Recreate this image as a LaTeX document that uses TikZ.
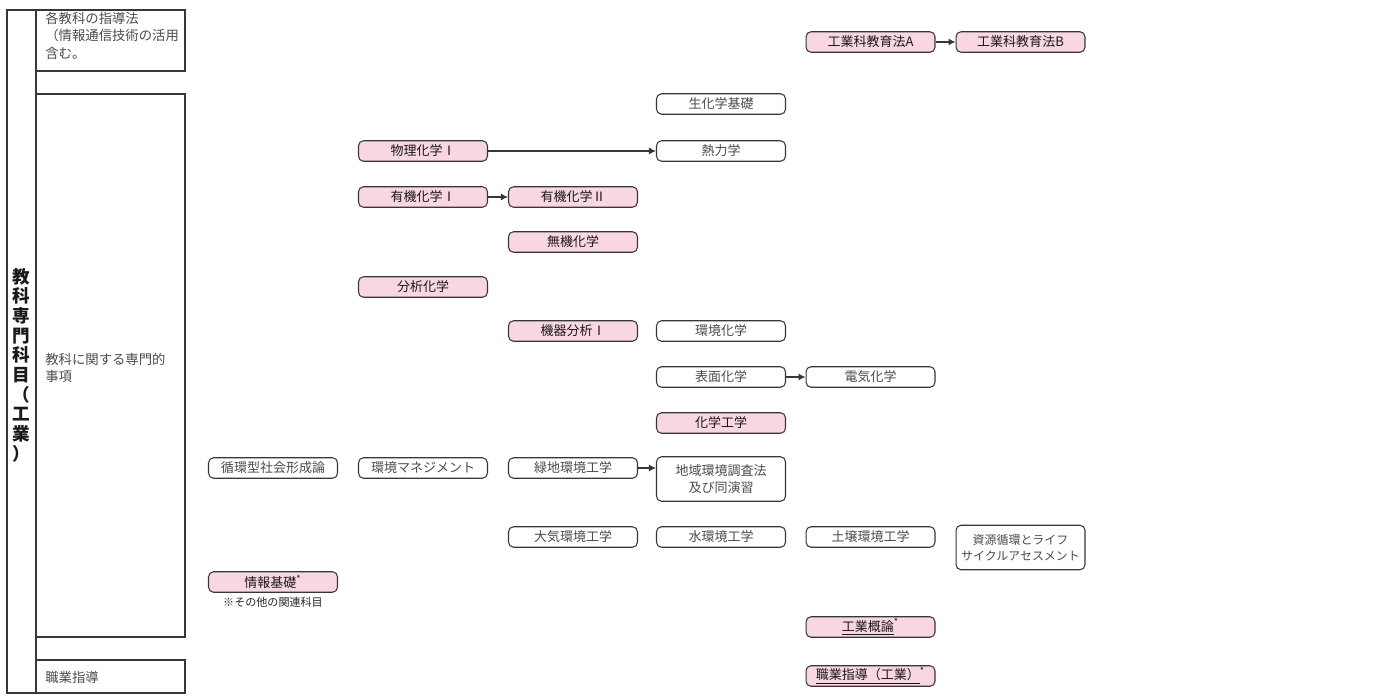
\documentclass[tikz,border=0pt]{standalone}
\usepackage{fontspec}
\setmainfont{Noto Sans CJK JP}
\usetikzlibrary{arrows.meta}
\definecolor{subjpink}{RGB}{248,214,228}
\definecolor{framegray}{RGB}{55,55,55}
\definecolor{txtgray}{RGB}{75,75,75}
\tikzset{
  subj/.style={rounded corners=1mm, draw=framegray, line width=0.6pt, minimum width=2.58cm, minimum height=0.41cm, inner sep=0pt, font=\fontsize{7.4}{9.2}\selectfont, align=center},
  core/.style={subj, fill=subjpink, text=black!90},
  other/.style={subj, fill=white, text=txtgray},
  tall/.style={minimum height=0.89cm},
  flow/.style={-{Latex[length=1.4mm,width=1.4mm]}, line width=0.6pt, draw=framegray},
  cell/.style={draw=framegray, line width=0.6pt},
  celltext/.style={inner sep=0pt, text=txtgray, align=left, font=\fontsize{7.6}{9.8}\selectfont}
}
\begin{document}
\begin{tikzpicture}[x=0.02cm, y=-0.02cm]
\useasboundingbox (0,0) rectangle (1391,696);
% left table
\draw[cell] (7,10) rectangle (36,693);
\draw[cell] (36,10) rectangle (185,71);
\draw[cell] (36,94) rectangle (185,637);
\draw[cell] (36,660) rectangle (185,693);
\node[inner sep=0pt, text=black!90, align=center, font=\fontsize{10}{11.2}\bfseries] (subjcol) at (21.5,365) {教\\科\\専\\門\\科\\目\\（\\工\\業\\）};
\node[celltext, anchor=north west] (method) at (45,12) {各教科の指導法\\（情報通信技術の活用\\含む。};
\node[celltext, anchor=west] (content) at (45,368) {教科に関する専門的\\事項};
\node[celltext, anchor=west] (career) at (45,677) {職業指導};
% subjects
\node[core] (eduA) at (870.5,42) {工業科教育法A};
\node[core] (eduB) at (1020.5,42) {工業科教育法B};
\node[other] (biochem) at (721,104) {生化学基礎};
\node[core] (physchem) at (423,151) {物理化学Ⅰ};
\node[other] (thermo) at (721,151) {熱力学};
\node[core] (orgA) at (423,197) {有機化学Ⅰ};
\node[core] (orgB) at (573,197) {有機化学Ⅱ};
\node[core] (inorg) at (573,242) {無機化学};
\node[core] (anal) at (423,287) {分析化学};
\node[core] (instr) at (573,331) {機器分析Ⅰ};
\node[other] (envchem) at (721,331) {環境化学};
\node[other] (surface) at (721,377) {表面化学};
\node[other] (electro) at (870.5,377) {電気化学};
\node[core] (chemeng) at (721,423) {化学工学};
\node[other] (cycle) at (273,468) {循環型社会形成論};
\node[other] (envmgmt) at (423,468) {環境マネジメント};
\node[other] (green) at (573,468) {緑地環境工学};
\node[other, tall] (survey) at (721,479) {地域環境調査法\\及び同演習};
\node[other] (air) at (573,537) {大気環境工学};
\node[other] (water) at (721,537) {水環境工学};
\node[other] (soil) at (870.5,537) {土壌環境工学};
\node[other, tall, font=\fontsize{6.8}{9}\selectfont] (lca) at (1020.5,547.5) {資源循環とライフ\\サイクルアセスメント};
\node[core] (info) at (273,582) {情報基礎\textsuperscript{*}};
\node[inner sep=0pt, text=black!85, font=\fontsize{6.3}{7}\selectfont] (note) at (273,602) {※その他の関連科目};
\node[core] (intro) at (870.5,627) {\underline{工業概論}\textsuperscript{*}};
\node[core] (guide) at (870.5,676) {\underline{職業指導（工業）}\textsuperscript{*}};
% arrows
\draw[flow] (eduA) -- (eduB);
\draw[flow] (physchem) -- (thermo);
\draw[flow] (orgA) -- (orgB);
\draw[flow] (surface) -- (electro);
\draw[flow] (green.east) -- (survey.west |- green.east);
\end{tikzpicture}
\end{document}
